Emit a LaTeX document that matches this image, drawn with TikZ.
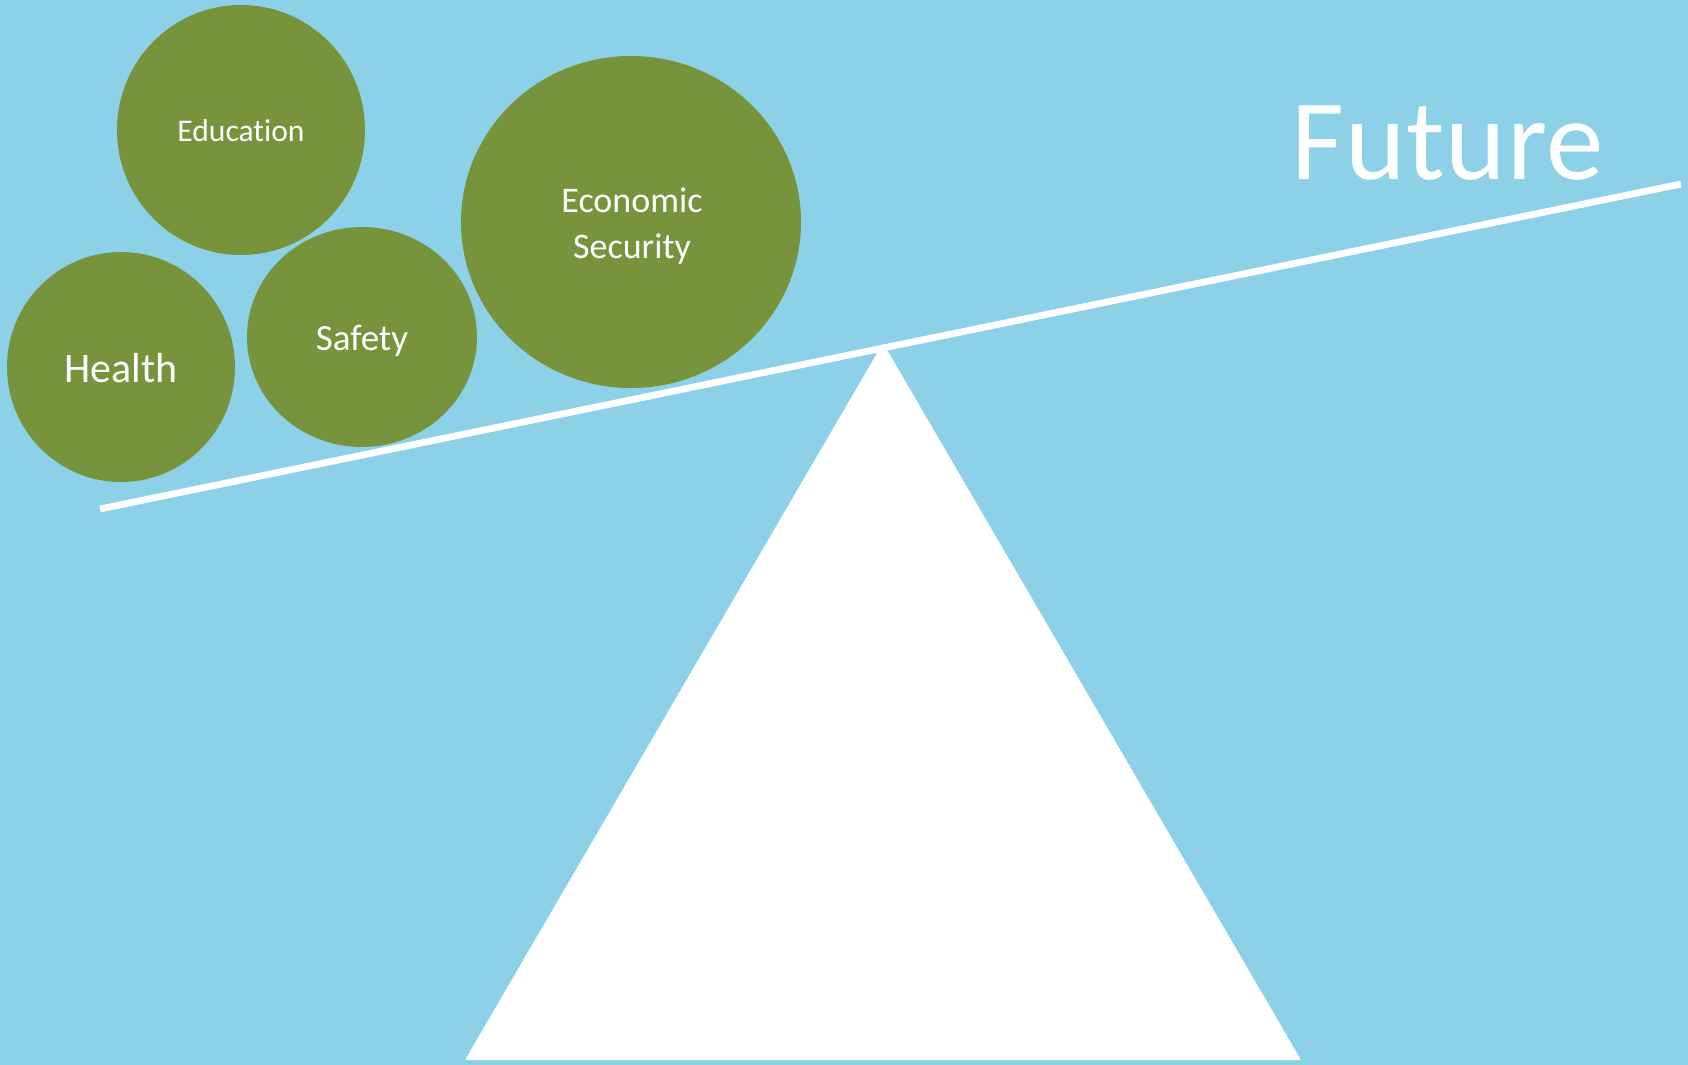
\documentclass[tikz,border=0pt]{standalone}
\usepackage{fontspec}
\setmainfont[Ligatures=CommonOff]{Carlito}
\usetikzlibrary{shapes.geometric}
\definecolor{skyblue}{HTML}{8CD1E7}
\definecolor{olive}{HTML}{77933C}
\tikzset{
  ball/.style={ellipse, fill=olive, inner sep=0pt, outer sep=0pt, text=white, align=center},
  lbl/.style={text=white, inner sep=0pt, anchor=base}
}
\begin{document}
\begin{tikzpicture}[x=0.5pt, y=-0.5pt]
\fill[skyblue] (0,0) rectangle (1688,1065);
\useasboundingbox (0,0) rectangle (1688,1065);
% fulcrum
\coordinate (apex) at (883,343);
\coordinate (bl) at (465,1060);
\coordinate (br) at (1301,1060);
\fill[white, rounded corners=1pt] (apex) -- (br) -- (bl) -- cycle;
% beam
\coordinate (beamL) at (100,509);
\coordinate (beamR) at (1681,184);
\draw[white, line width=3.4pt] (beamL) -- (beamR);
% balls
\node[ball, minimum width=248*0.5pt, minimum height=250*0.5pt] (edu) at (241,130) {};
\node[ball, minimum width=228*0.5pt, minimum height=230*0.5pt] (health) at (121,367) {};
\node[ball, minimum width=230*0.5pt, minimum height=220*0.5pt] (safety) at (362,337) {};
\node[ball, minimum width=340*0.5pt, minimum height=332*0.5pt] (econ) at (631,222) {};
% labels
\node[lbl, font=\fontsize{15.8pt}{19pt}\selectfont] (edut) at (241,141) {Education};
\node[lbl, font=\fontsize{21pt}{25pt}\selectfont] (healtht) at (121,382) {Health};
\node[lbl, font=\fontsize{18.5pt}{22pt}\selectfont] (safetyt) at (362,350) {Safety};
\node[lbl, font=\fontsize{18pt}{22pt}\selectfont] (econt1) at (632,213) {Economic};
\node[lbl, font=\fontsize{18pt}{22pt}\selectfont] (econt2) at (632,258) {Security};
\node[lbl, anchor=base west, font=\addfontfeatures{LetterSpace=0.8}\fontsize{57.5pt}{62pt}\selectfont] (future) at (1291,180) {Future};
\end{tikzpicture}
\end{document}
